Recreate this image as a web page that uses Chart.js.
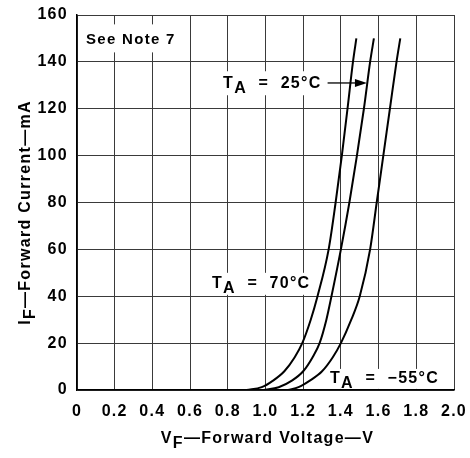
<!DOCTYPE html>
<html>
<head>
<meta charset="utf-8">
<script src="https://cdn.jsdelivr.net/npm/chart.js@4/dist/chart.umd.min.js"></script>
<style>
  html, body { margin: 0; padding: 0; background: #fff; }
  canvas { display: block; }
</style>
</head>
<body>
<canvas id="ivChart" width="470" height="458"></canvas>
<script>
// forward current levels (mA) and the voltage each curve reaches there (V)
const currentMA = [0, 1.2, 4, 8, 14, 20, 30, 40, 60, 80, 100, 120, 140, 150];
const volts70 = [0.90, 0.98, 1.04, 1.10, 1.155, 1.195, 1.24, 1.276, 1.335, 1.372, 1.405, 1.435, 1.464, 1.482];
const volts25 = [0.99, 1.07, 1.14, 1.20, 1.25, 1.287, 1.323, 1.35, 1.40, 1.445, 1.485, 1.522, 1.555, 1.575];
const voltsM55 = [1.12, 1.175, 1.235, 1.30, 1.357, 1.40, 1.455, 1.50, 1.555, 1.59, 1.625, 1.66, 1.695, 1.715];

const xTicks = [0, 0.2, 0.4, 0.6, 0.8, 1.0, 1.2, 1.4, 1.6, 1.8, 2.0];
const yTicks = [0, 20, 40, 60, 80, 100, 120, 140, 160];

const FONT = '"Liberation Sans", Arial, sans-serif';
const ctx = document.getElementById('ivChart').getContext('2d');

function pts(volts) {
    return volts.map((v, i) => ({ x: v, y: currentMA[i] }));
}

// text pieces: [text, 'sub'] gets dropped a bit
function drawPieces(c, pieces, x, y) {
    let cx = x;
    pieces.forEach(p => {
        const dy = p[1] === 'sub' ? 5 : 0;
        c.fillText(p[0], cx, y + dy);
        cx += c.measureText(p[0]).width;
    });
    return cx;
}

function piecesWidth(c, pieces) {
    return pieces.reduce((w, p) => w + c.measureText(p[0]).width, 0);
}

const spacing = {
    id: 'spacing',
    beforeUpdate(chart) { chart.ctx.letterSpacing = '1.3px'; },
    beforeDraw(chart) { chart.ctx.letterSpacing = '1.3px'; }
};

const notes = {
    id: 'notes',
    beforeDatasetsDraw(chart) {
        const c = chart.ctx;
        const xs = chart.scales.x, ys = chart.scales.y;
        c.save();
        c.fillStyle = '#fff';
        // white boxes behind the labels
        c.fillRect(xs.getPixelForValue(0.02), ys.getPixelForValue(156), 106, 28);
        c.fillRect(xs.getPixelForValue(0.69), ys.getPixelForValue(136), 104, 24);
        c.fillRect(xs.getPixelForValue(0.69), ys.getPixelForValue(50), 104, 22);
        c.fillRect(xs.getPixelForValue(1.32), ys.getPixelForValue(9), 122, 20);
        c.restore();
    },
    afterDraw(chart) {
        const c = chart.ctx;
        const xs = chart.scales.x, ys = chart.scales.y;
        c.save();
        c.letterSpacing = '1.3px';
        c.fillStyle = '#000';
        c.strokeStyle = '#000';
        c.textBaseline = 'alphabetic';
        c.textAlign = 'left';

        c.font = 'bold 15px ' + FONT;
        c.fillText('See Note 7', xs.getPixelForValue(0.048), ys.getPixelForValue(147.6));

        c.font = 'bold 16px ' + FONT;
        const endX = drawPieces(c, [['T'], ['A', 'sub'], ['  =  25°C']],
            xs.getPixelForValue(0.775), ys.getPixelForValue(128.8));
        // arrow to the 25 C curve
        const ay = ys.getPixelForValue(131);
        const tipX = xs.getPixelForValue(1.538);
        c.lineWidth = 1.3;
        c.beginPath();
        c.moveTo(endX + 6, ay);
        c.lineTo(tipX - 8, ay);
        c.stroke();
        c.beginPath();
        c.moveTo(tipX, ay);
        c.lineTo(tipX - 12, ay - 4);
        c.lineTo(tipX - 12, ay + 4);
        c.closePath();
        c.fill();

        drawPieces(c, [['T'], ['A', 'sub'], ['  =  70°C']],
            xs.getPixelForValue(0.716), ys.getPixelForValue(43.4));
        drawPieces(c, [['T'], ['A', 'sub'], ['  =  \u221255°C']],
            xs.getPixelForValue(1.342), ys.getPixelForValue(2.8));

        // axis titles
        const xt = [['V'], ['F', 'sub'], ['\u2014Forward Voltage\u2014V']];
        const xw = piecesWidth(c, xt);
        drawPieces(c, xt, (xs.left + xs.right) / 2 - xw / 2 + 2, 443);

        const yt = [['I'], ['F', 'sub'], ['\u2014Forward Current\u2014mA']];
        const yw = piecesWidth(c, yt);
        c.translate(30, (ys.top + ys.bottom) / 2 + 10);
        c.rotate(-Math.PI / 2);
        drawPieces(c, yt, -yw / 2, 0);
        c.restore();
    }
};

const curve = (label, volts) => ({
    label: label,
    data: pts(volts),
    showLine: true,
    borderColor: '#000',
    borderWidth: 2,
    pointRadius: 0,
    cubicInterpolationMode: 'monotone',
    fill: false
});

new Chart(ctx, {
    type: 'scatter',
    data: {
        datasets: [
            curve('TA = 70°C', volts70),
            curve('TA = 25°C', volts25),
            curve('TA = -55°C', voltsM55)
        ]
    },
    options: {
        responsive: false,
        animation: false,
        devicePixelRatio: 1,
        layout: { padding: { top: 15, right: 16, left: 0, bottom: 0 } },
        plugins: { legend: { display: false }, tooltip: { enabled: false } },
        scales: {
            x: {
                type: 'linear',
                min: 0,
                max: 2,
                afterBuildTicks: s => { s.ticks = xTicks.map(v => ({ value: v })); },
                afterFit: s => {
                    s.height = 68;
                    s.paddingLeft = 0;
                    s.paddingRight = 0;
                },
                ticks: {
                    color: '#000',
                    font: { family: FONT, size: 16, weight: 'bold' },
                    padding: 12,
                    maxRotation: 0,
                    callback: v => v === 0 ? '0' : v.toFixed(1)
                },
                grid: { color: '#3a3a3a', lineWidth: 1, drawTicks: false },
                border: { color: '#000', width: 1.5 }
            },
            y: {
                min: 0,
                max: 160,
                afterBuildTicks: s => { s.ticks = yTicks.map(v => ({ value: v })); },
                afterFit: s => {
                    s.width = 77;
                    s.paddingTop = 0;
                    s.paddingBottom = 0;
                },
                ticks: {
                    color: '#000',
                    font: { family: FONT, size: 16, weight: 'bold' },
                    padding: 9
                },
                grid: { color: '#3a3a3a', lineWidth: 1, drawTicks: false },
                border: { color: '#000', width: 1.5 }
            }
        }
    },
    plugins: [spacing, notes]
});
</script>
</body>
</html>
